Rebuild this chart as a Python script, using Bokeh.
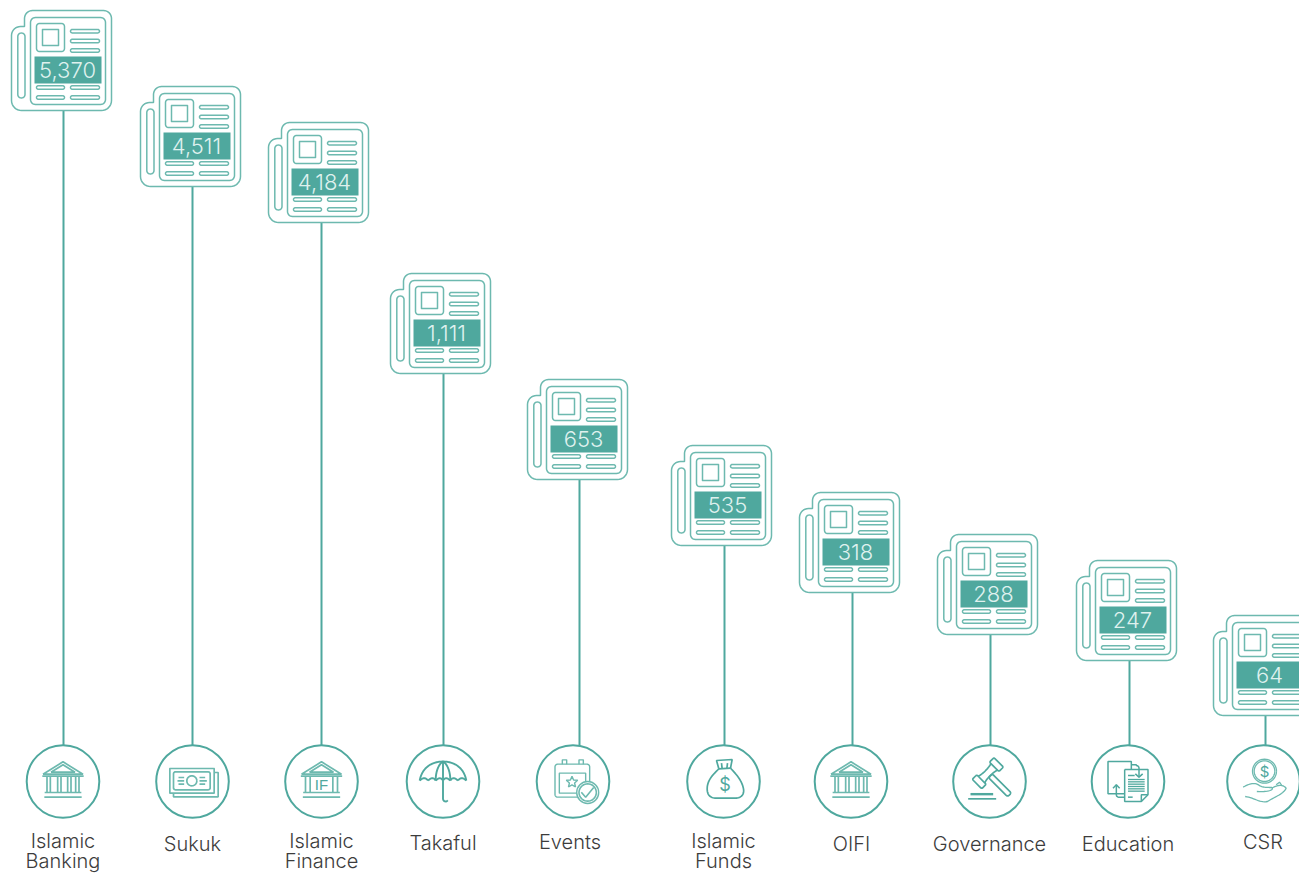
import math
from bokeh.plotting import figure
from bokeh.models import Range1d
from bokeh.core.properties import value
from bokeh.embed import file_html
from bokeh.resources import INLINE

# ---- data
categories = ["Islamic\nBanking", "Sukuk", "Islamic\nFinance", "Takaful", "Events",
              "Islamic\nFunds", "OIFI", "Governance", "Education", "CSR"]
counts = [5370, 4511, 4184, 1111, 653, 535, 318, 288, 247, 64]
count_labels = ["5,370", "4,511", "4,184", "1,111", "653", "535", "318", "288", "247", "64"]

# ---- layout (page pixels)
card_left = [11, 140, 268, 390, 527, 671, 799, 937, 1076, 1213]
card_top = [10, 86, 122, 273, 379, 445, 492, 534, 560, 615]
stem_x = [63, 192, 321, 443, 579, 724, 852, 990, 1129, 1265]
circle_x = [62.5, 192, 321, 442.5, 572.5, 723, 850.5, 989, 1127.5, 1263]
label_x = [62.5, 192, 321, 442.5, 569.5, 723, 851, 989, 1127.5, 1262.5]
label_y = [840, 843, 840, 842, 841, 840, 843, 843, 843, 841]
SECOND_LINE_Y = 860
CIRCLE_Y, CIRCLE_R = 781, 36.3
TEAL, TEAL_L, INK = "#4fa89e", "#6db9af", "#3c3c3c"
FONT = "Montserrat Light, Inter Light, Inter, Lato"

p = figure(width=1299, height=873, x_range=Range1d(0, 1299), y_range=Range1d(873, 0),
           output_backend="svg", toolbar_location=None, min_border=0,
           outline_line_color=None, background_fill_color="white", border_fill_color="white")
p.axis.visible = False
p.grid.visible = False


def rrect(x0, y0, x1, y1, r):
    pts = []
    for cx, cy, a0 in ((x1 - r, y0 + r, -90), (x1 - r, y1 - r, 0), (x0 + r, y1 - r, 90), (x0 + r, y0 + r, 180)):
        for k in range(7):
            a = math.radians(a0 + 15 * k)
            pts.append((cx + r * math.cos(a), cy + r * math.sin(a)))
    pts.append(pts[0])
    return pts


def circ(cx, cy, r, a0=0, a1=360):
    n = 40
    return [(cx + r * math.cos(math.radians(a0 + (a1 - a0) * k / n)),
             cy + r * math.sin(math.radians(a0 + (a1 - a0) * k / n))) for k in range(n + 1)]


def draw(paths, ox=0, oy=0, s=1.0, color=TEAL_L, w=1.3):
    p.multi_line([[ox + q[0] * s for q in path] for path in paths],
                 [[oy + q[1] * s for q in path] for path in paths],
                 line_color=color, line_width=w)


def bez(a, b, c, d, n=14):
    out = []
    for i in range(n + 1):
        t = i / n
        u = 1 - t
        out.append((u**3 * a[0] + 3 * u * u * t * b[0] + 3 * u * t * t * c[0] + t**3 * d[0],
                    u**3 * a[1] + 3 * u * u * t * b[1] + 3 * u * t * t * c[1] + t**3 * d[1]))
    return out


def pill(x0, x1, y, h=3.4):
    return rrect(x0, y - h / 2, x1, y + h / 2, h / 2 - 0.01)


# newspaper card, local coordinates relative to its top-left corner
outer = circ(21, 8, 8, 180, 270)[::5] + circ(92, 8, 8, 270, 360)[::5] + circ(90, 90, 10, 0, 90)[::5] + \
        circ(10, 90, 10, 90, 180)[::5] + circ(9, 25, 9, 180, 270)[::5] + [(13, 16), (13, 8)]
card_paths = [
    outer,
    rrect(19, 7, 94, 94, 5),
    rrect(6.3, 22.5, 13.5, 87.5, 3.5),
    rrect(25, 13, 53, 41, 3),
    rrect(31, 19, 47, 35, 0.01),
    pill(59, 88, 20.7), pill(59, 88, 30.5), pill(59, 88, 40),
    pill(25, 53, 77), pill(59, 88, 77),
    pill(25, 53, 87), pill(59, 88, 87),
]

for i in range(len(counts)):
    lx, ty = card_left[i], card_top[i]
    draw([[(stem_x[i], ty + 100), (stem_x[i], CIRCLE_Y - CIRCLE_R)]], color=TEAL, w=2)
    draw(card_paths, lx, ty, w=1.5)
    p.quad(left=[lx + 23], right=[lx + 90], top=[ty + 46], bottom=[ty + 73],
           fill_color=TEAL, line_color=None)
    p.text([lx + 56], [ty + 59], text=[count_labels[i]], text_font=value(FONT),
           text_font_size="22px", text_color="#dff1ee", text_align="center", text_baseline="middle")
    p.circle([circle_x[i]], [CIRCLE_Y], radius=CIRCLE_R, fill_color="white", line_color=TEAL, line_width=2)
    for j, line in enumerate(categories[i].split("\n")):
        p.text([label_x[i]], [SECOND_LINE_Y if j else label_y[i]], text=[line], text_font=value(FONT),
               text_font_size="20px", text_color=INK, text_align="center", text_baseline="middle")

# icons, in 3x-zoomed local units about each circle centre
S = 1 / 3


def bank(ox, inner_if=False):
    paths = [[(-60, -22), (0, -59), (60, -22), (-60, -22)],
             [(-36, -28), (0, -50), (36, -28), (-36, -28)],
             [(-62, -16), (62, -16)], [(-55, 33), (55, 33)], [(-56, 47), (56, 47)]]
    xs = [-48, -34, 34, 48] if inner_if else [-48, -38, -16, -6, 14, 24, 38, 48]
    for x in xs:
        paths.append([(x, -14), (x, 33)])
    draw(paths, ox, CIRCLE_Y, S, TEAL_L, 1.7)


bank(circle_x[0])
bank(circle_x[2], True)
p.text([circle_x[2]], [CIRCLE_Y + 2.5], text=["IF"], text_font=value("Liberation Sans"), text_font_size="15px",
       text_color=TEAL, text_align="center", text_baseline="middle")
bank(circle_x[6])

# Sukuk
draw([rrect(-68, -39, 65, 35, 1), rrect(-57, -29, 53, 25, 6), circ(-2, -2, 15),
      [(-42, -12), (-25, -12)], [(-45, -2), (-25, -2)], [(-42, 8), (-25, 8)],
      [(21, -12), (38, -12)], [(21, -2), (43, -2)], [(21, 8), (38, 8)],
      [(65, -27), (77, -27), (77, 46), (-57, 46), (-57, 35)]], circle_x[1], CIRCLE_Y, S, TEAL_L, 1.7)

# Takaful
draw([bez((-70, -3), (-62, -45), (-30, -60), (0, -60)) + bez((0, -60), (30, -60), (62, -45), (70, -3))[1:],
      bez((-70, -3), (-60, -12), (-52, -12), (-45, -3)), bez((-45, -3), (-35, -12), (-27, -12), (-22, -3)),
      bez((-22, -3), (-12, -12), (-6, -12), (0, -3)), bez((0, -3), (6, -12), (12, -12), (22, -3)),
      bez((22, -3), (27, -12), (35, -12), (45, -3)), bez((45, -3), (52, -12), (60, -12), (70, -3)),
      bez((-22, -3), (-22, -35), (-10, -55), (0, -60)), bez((22, -3), (22, -35), (10, -55), (0, -60)),
      [(0, -3), (0, -60)], [(0, -3), (0, 52)] + circ(8, 52, 8, 180, 20)[::6]],
     circle_x[3], CIRCLE_Y, S, TEAL, 1.9)

# Events
star = [((18 * (1 if k % 2 == 0 else 0.45)) * math.cos(math.radians(-90 + 36 * k)) - 3,
         (18 * (1 if k % 2 == 0 else 0.45)) * math.sin(math.radians(-90 + 36 * k)) + 2) for k in range(11)]
draw([rrect(-54, -52, 50, 47, 8), rrect(-41, -25, 38, 35, 1), [(-32, -52), (-32, -65), (-19, -65), (-19, -52)],
      [(18, -52), (18, -65), (31, -65), (31, -52)], star], circle_x[4], CIRCLE_Y, S, TEAL_L, 1.4)
p.circle([circle_x[4] + 14.7], [CIRCLE_Y + 11], radius=11, fill_color="white", line_color=TEAL_L, line_width=1.4)
draw([circ(44, 33, 26), [(25, 32), (38, 47), (62, 18)]], circle_x[4], CIRCLE_Y, S, TEAL_L, 1.6)

# Islamic Funds
draw([[(-14, -38), (-21, -63), (26, -66), (21, -40)],
      [(-14, -38), (21, -40)], [(-4, -38), (-6, -55)], [(10, -39), (12, -55)],
      [(-14, -38)] + bez((-14, -38), (-30, -22), (-49, -5), (-49, 22))[1:] + bez((-49, 22), (-49, 42), (-38, 50), (-22, 50))[1:]
      + [(35, 50)] + bez((35, 50), (52, 50), (63, 40), (60, 22))[1:] + bez((60, 22), (55, -5), (35, -25), (21, -40))[1:]],
     circle_x[5], CIRCLE_Y, S, TEAL, 1.7)
p.text([circle_x[5] + 1.5], [CIRCLE_Y + 3], text=["$"], text_font=value("Inter"), text_font_size="18px",
       text_color=TEAL, text_align="center", text_baseline="middle")


# Governance
def rot(pts, deg, cx, cy):
    a = math.radians(deg)
    return [(cx + x * math.cos(a) - y * math.sin(a), cy + x * math.sin(a) + y * math.cos(a)) for x, y in pts]


GX, GY = -5, -25
cap1 = rot(rrect(-46, -20, -27, 20, 4), -45, GX, GY)
cap2 = rot(rrect(27, -20, 46, 20, 4), -45, GX, GY)
neck_a = rot(bez((-27, -14), (-14, -9), (14, -9), (27, -14)), -45, GX, GY)
neck_b = rot(bez((-27, 14), (-14, 9), (14, 9), (27, 14)), -45, GX, GY)
handle = rot(rrect(-8, 11, 8, 92, 6), -45, GX, GY)
draw([cap1, cap2, neck_a, neck_b, handle, [(-64, 52), (20, 52)]], circle_x[7], CIRCLE_Y, S, TEAL, 1.7)
draw([[(-57, 38), (11, 38)]], circle_x[7], CIRCLE_Y, S, TEAL, 2.4)

# Education
draw([[(-10, 37), (-60, 37), (-60, -60), (10, -60), (10, -36)],
      [(-10, -36), (60, -36), (60, 40), (40, 60), (-10, 60), (-10, -36)], [(40, 60), (40, 40), (60, 40)],
      [(10, -50), (25, -50)] + circ(25, -40, 8, 270, 360)[::10] + [(33, -13)], [(22, -23), (33, -13), (44, -23)],
      [(-10, 47), (-28, 47)] + circ(-28, 40, 7, 90, 180)[::10] + [(-35, 10)], [(-45, 20), (-35, 10), (-25, 20)],
      [(0, -18), (20, -18)], [(0, 47), (14, 47)]], circle_x[8], CIRCLE_Y, S, TEAL, 1.5)
draw([[(0, y), (50, y)] for y in (-6, 1, 8, 15, 22, 29)], circle_x[8], CIRCLE_Y, S, TEAL, 1.3)

# CSR
draw([circ(3, -31, 36), circ(3, -31, 31),
      bez((-61, 17), (-45, 8), (-30, 2), (-15, 10)) + bez((-15, 10), (-5, 18), (10, 18), (25, 18))[1:]
      + bez((25, 18), (32, 24), (18, 32), (-20, 30))[1:],
      bez((25, 20), (42, 10), (58, 8), (68, 20)) + bez((68, 20), (60, 38), (35, 45), (12, 60))[1:]
      + bez((12, 60), (-10, 65), (-30, 48), (-55, 45))[1:],
      [(38, 10), (48, 2), (55, 12)]], circle_x[9], CIRCLE_Y, S, TEAL_L, 1.3)
p.text([circle_x[9] + 1], [CIRCLE_Y - 10], text=["$"], text_font=value("Inter"), text_font_size="15px",
       text_color=TEAL, text_align="center", text_baseline="middle")

open("out.html", "w").write(file_html(p, INLINE))
